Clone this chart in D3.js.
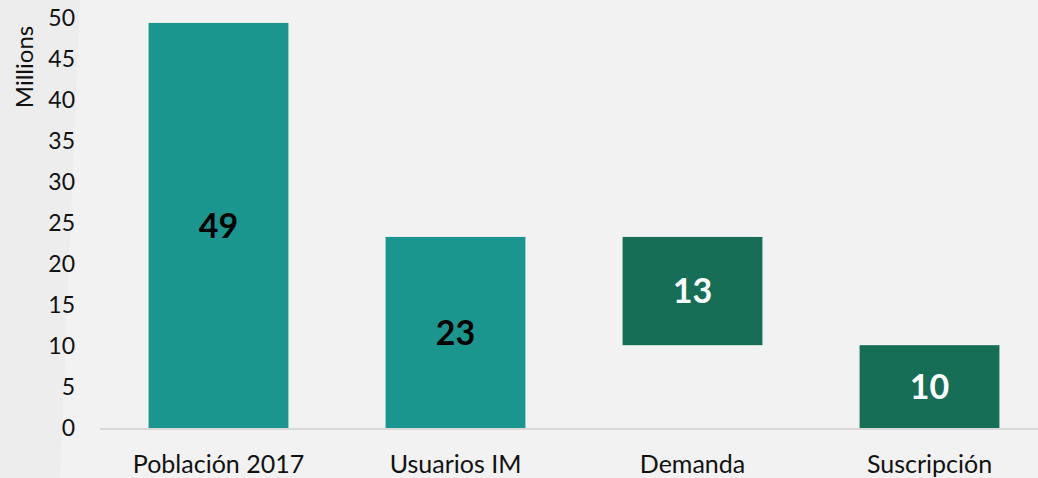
<!DOCTYPE html>
<html>
<head>
<meta charset="utf-8">
<script src="https://cdnjs.cloudflare.com/ajax/libs/d3/7.8.5/d3.min.js"></script>
<style>
  html, body { margin: 0; padding: 0; background: #f2f2f2; }
  svg { display: block; font-family: Lato, "Open Sans", sans-serif; }
</style>
</head>
<body>
<svg width="1038" height="478"></svg>
<script>
// data
var categories = ["Población 2017", "Usuarios IM", "Demanda", "Suscripción"];
var barBase = [0, 0, 10.1, 0];
var barValue = [49.4, 23.3, 13.2, 10.1];
var labels = ["49", "23", "13", "10"];
var yTicks = [0, 5, 10, 15, 20, 25, 30, 35, 40, 45, 50];

var barFill = ["#1b968f", "#1b968f", "#166e57", "#166e57"];
var labelFill = ["#000", "#000", "#fff", "#fff"];

var svg = d3.select("svg");
var width = 1038, height = 478;

// faint backdrop shape on the left
svg.append("path")
    .attr("d", "M0,0 L80,0 L60,478 L0,478 Z")
    .attr("fill", "#ededed");

var x = d3.scaleBand()
    .domain(categories)
    .range([100, 1048])
    .paddingInner(0.41)
    .paddingOuter(0.205);

var y = d3.scaleLinear()
    .domain([0, 50])
    .range([428, 18]);

var rows = categories.map(function(c, i) {
    return {cat: c, base: barBase[i], val: barValue[i], label: labels[i], fill: barFill[i], lf: labelFill[i]};
});

// y axis (labels only)
var yAxis = svg.append("g")
    .attr("transform", "translate(80,0)")
    .call(d3.axisLeft(y).tickValues(yTicks).tickSize(0).tickPadding(5));
yAxis.select(".domain").remove();
yAxis.selectAll("text")
    .attr("font-size", 23)
    .attr("fill", "#111")
    .attr("font-family", "Lato, 'Open Sans', sans-serif");

svg.append("text")
    .attr("transform", "translate(33,67) rotate(-90)")
    .attr("text-anchor", "middle")
    .attr("font-size", 24)
    .attr("fill", "#111")
    .text("Millions");

// bars
svg.append("g").selectAll("rect")
    .data(rows)
    .enter().append("rect")
    .attr("x", function(d) { return x(d.cat); })
    .attr("width", x.bandwidth())
    .attr("y", function(d) { return y(d.base + d.val); })
    .attr("height", function(d) { return y(d.base) - y(d.base + d.val); })
    .attr("fill", function(d) { return d.fill; });

// baseline
svg.append("line")
    .attr("x1", 100).attr("x2", width)
    .attr("y1", y(0) + 1).attr("y2", y(0) + 1)
    .attr("stroke", "#d9d9d9")
    .attr("stroke-width", 2);

// value labels
svg.append("g").selectAll("text")
    .data(rows)
    .enter().append("text")
    .attr("x", function(d) { return x(d.cat) + x.bandwidth() / 2; })
    .attr("y", function(d) { return y(d.base + d.val / 2); })
    .attr("dy", "0.36em")
    .attr("text-anchor", "middle")
    .attr("font-size", 34)
    .attr("font-weight", "bold")
    .attr("fill", function(d) { return d.lf; })
    .text(function(d) { return d.label; });

// x axis labels
var xAxis = svg.append("g")
    .attr("transform", "translate(0," + y(0) + ")")
    .call(d3.axisBottom(x).tickSize(0).tickPadding(27));
xAxis.select(".domain").remove();
xAxis.selectAll("text")
    .attr("font-size", 25)
    .attr("fill", "#111")
    .attr("font-family", "Lato, 'Open Sans', sans-serif");
</script>
</body>
</html>
